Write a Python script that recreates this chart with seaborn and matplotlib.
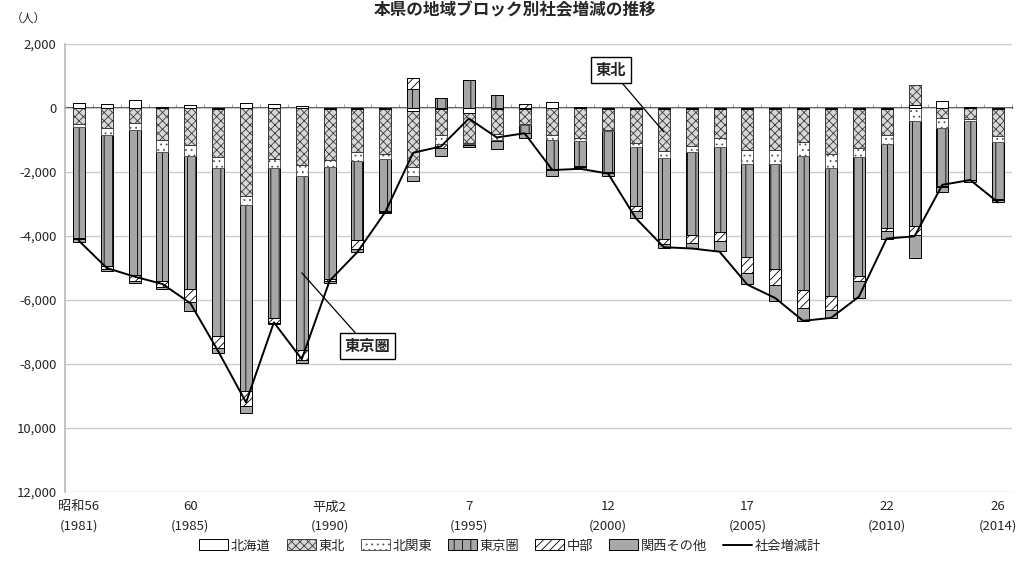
import numpy as np
import pandas as pd
import seaborn as sns
import matplotlib
matplotlib.use("Agg")
from matplotlib import pyplot as plt
from matplotlib.patches import Patch
from matplotlib.lines import Line2D

# data (persons), 1981-2014
years = [str(y) for y in range(1981, 2015)]
hokkaido = [170, 130, 260, 30, 90, -30, 160, 125, 50, -40, -40, -20, -80, -20, -150, -20, -20,
            200, 40, -20, -30, -20, -20, -30, -40, -40, -40, -40, -30, -30, 80, 210, 40, -30]
tohoku = [-500, -625, -470, -990, -1150, -1500, -2760, -1590, -1790, -1600, -1340, -1420, -1750,
          -830, -940, -780, -470, -830, -940, -660, -1060, -1330, -1180, -910, -1260, -1260,
          -1030, -1390, -1220, -820, 650, -310, -340, -850]
kitakanto = [-90, -210, -210, -400, -340, -340, -280, -280, -340, -210, -290, -160, -310, -260,
             -30, -210, -30, -170, -100, -30, -125, -200, -160, -280, -440, -440, -440, -460,
             -280, -290, -400, -310, -70, -180]
tokyo = [-3470, -4110, -4530, -4030, -4170, -5260, -5810, -4690, -5420, -3490, -2470, -1610, 600,
         310, 860, 420, -260, -920, -760, -1280, -1850, -2550, -2600, -2640, -2930, -3290, -4190,
         -3970, -3710, -2600, -3300, -1820, -1830, -1780]
chubu = [-30, -100, -210, -160, -390, -365, -470, -155, -310, -60, -260, -30, 350, -150, -30, -30,
         130, -30, -30, -30, -160, -160, -260, -310, -490, -490, -550, -440, -180, -100, -260,
         -30, -20, -20]
kansai = [-100, -50, -50, -80, -280, -160, -210, -50, -100, -60, -100, -50, -150, -230, -80, -240,
          -160, -190, -70, -100, -210, -100, -160, -310, -330, -520, -420, -260, -520, -240, -730,
          -160, -60, -70]
total = [-4150, -5000, -5270, -5500, -6100, -7600, -9200, -6700, -7850, -5400, -4500, -3250, -1400,
         -1200, -330, -920, -790, -1940, -1900, -2050, -3450, -4350, -4390, -4490, -5520, -5940,
         -6650, -6560, -5900, -4080, -4010, -2400, -2250, -2950]

series_names = ["北海道", "東北", "北関東", "東京圏", "中部", "関西その他"]
tick_idx = [0, 4, 9, 14, 19, 24, 29, 33]
tick_labels = ["昭和56\n(1981)", "60\n(1985)", "平成2\n(1990)", "7\n(1995)",
               "12\n(2000)", "17\n(2005)", "22\n(2010)", "26\n(2014)"]
ytick_vals = [2000, 0, -2000, -4000, -6000, -8000, -10000, -12000]
ytick_labels = ["2,000", "0", "-2,000", "-4,000", "-6,000", "-8,000", "10,000", "12,000"]

styles = {
    "北海道": dict(facecolor="white", hatch=None, edgecolor="black"),
    "東北": dict(facecolor="#d8d8d8", hatch="xxxx", edgecolor="#3a3a3a"),
    "北関東": dict(facecolor="white", hatch="...", edgecolor="#555555"),
    "東京圏": dict(facecolor="#a6a6a6", hatch="||", edgecolor="black"),
    "中部": dict(facecolor="white", hatch="////", edgecolor="black"),
    "関西その他": dict(facecolor="#a8a8a8", hatch=None, edgecolor="black"),
}

sns.set_theme(style="white")
plt.rcParams["font.family"] = ["Noto Sans CJK JP", "DejaVu Sans"]
plt.rcParams["hatch.linewidth"] = 0.6

df = pd.DataFrame(dict(zip(series_names, [hokkaido, tohoku, kitakanto, tokyo, chubu, kansai])),
                  index=years)
pos = df.clip(lower=0).cumsum(axis=1)
neg = df.clip(upper=0).cumsum(axis=1)

fig = plt.figure(figsize=(10.19, 5.71), dpi=100)
ax = fig.add_axes([65 / 1019, 1 - 492 / 571, (1012 - 65) / 1019, (492 - 44) / 571])

# stacked bars: draw cumulative sums from the outermost layer inwards
for stack in (neg, pos):
    for name in reversed(series_names):
        st = styles[name]
        sns.barplot(x=years, y=stack[name].values, order=years, color=st["facecolor"],
                    saturation=1, width=0.43, errorbar=None, ax=ax,
                    edgecolor=st["edgecolor"], hatch=st["hatch"], linewidth=0.7, zorder=2)

sns.lineplot(x=np.arange(len(years)), y=total, color="black", linewidth=1.4, ax=ax, zorder=3)

ax.set_xlim(-0.5, len(years) - 0.5)
ax.set_ylim(-12000, 2000)
ax.set_yticks(ytick_vals)
ax.set_yticklabels(ytick_labels, fontsize=9.5)
ax.set_xticks(tick_idx)
ax.set_xticklabels(tick_labels, fontsize=9.5, linespacing=1.6)
ax.tick_params(axis="both", length=0, pad=6)
ax.set_xlabel("")
ax.set_ylabel("")
ax.yaxis.grid(True, color="#cccccc", linewidth=1)
ax.set_axisbelow(True)
for s in ["top", "right", "bottom"]:
    ax.spines[s].set_visible(False)
ax.spines["left"].set_color("#bbbbbb")

# category tick marks on the zero line
zero_ax = ax.secondary_xaxis(12000 / 14000)
zero_ax.set_xticks(np.arange(len(years) + 1) - 0.5)
zero_ax.set_xticklabels([])
zero_ax.tick_params(direction="out", length=3, color="#aaaaaa", width=0.8)
zero_ax.spines["bottom"].set_color("#bbbbbb")

box = dict(boxstyle="square,pad=0.3", facecolor="white", edgecolor="black", linewidth=1)
ax.annotate("東北", xy=(21, -750), xytext=(19.1, 1190), fontsize=11, fontweight="bold",
            ha="center", va="center", bbox=box,
            arrowprops=dict(arrowstyle="-", color="black", linewidth=0.9, shrinkA=0, shrinkB=0))
ax.annotate("東京圏", xy=(8, -5150), xytext=(10.35, -7440), fontsize=11, fontweight="bold",
            ha="center", va="center", bbox=box,
            arrowprops=dict(arrowstyle="-", color="black", linewidth=0.9, shrinkA=0, shrinkB=0))

fig.text(515 / 1019, 1 - 10 / 571, "本県の地域ブロック別社会増減の推移", ha="center", va="center",
         fontsize=12, fontweight="bold")
fig.text(28 / 1019, 1 - 18 / 571, "（人）", ha="center", va="center", fontsize=8.5)

handles = [Patch(facecolor=styles[n]["facecolor"], edgecolor=styles[n]["edgecolor"],
                 hatch=styles[n]["hatch"], linewidth=0.7, label=n) for n in series_names]
handles.append(Line2D([0], [0], color="black", linewidth=1.4, label="社会増減計"))
fig.legend(handles=handles, loc="center", bbox_to_anchor=(510 / 1019, 1 - 546 / 571), ncol=7,
           frameon=False, fontsize=9.5, handlelength=2.2, handleheight=0.9, handletextpad=0.2,
           columnspacing=1.2)

fig.savefig("out.png", dpi=100)
